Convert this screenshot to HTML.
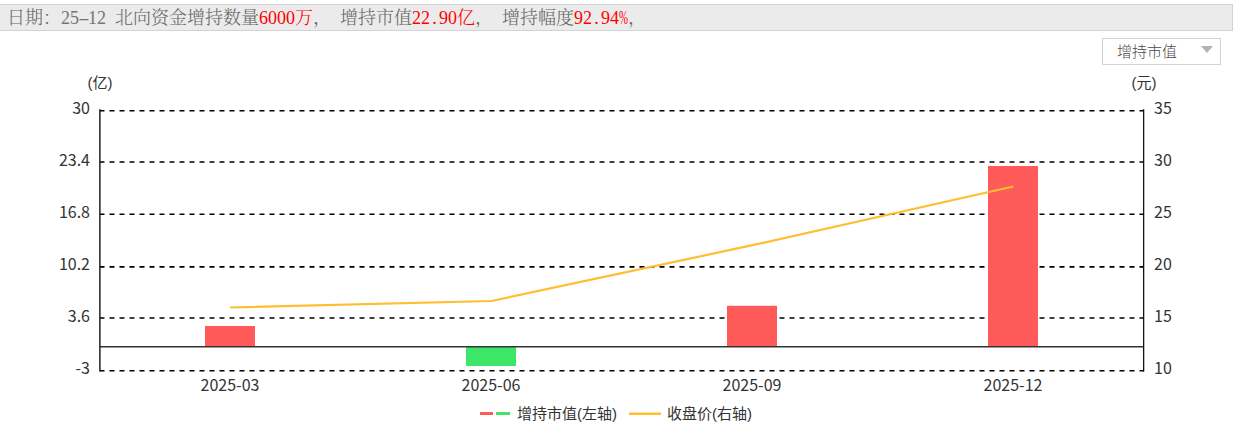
<!DOCTYPE html>
<html><head><meta charset="utf-8">
<style>
html,body{margin:0;padding:0;background:#fff;width:1238px;height:435px;overflow:hidden;position:relative}
.hdr{position:absolute;left:-1px;top:4px;width:1232px;height:25px;background:#ebebeb;border:1px solid #d3d3d3}
.ht{position:absolute;top:0;height:27px;line-height:25px;font-family:"Noto Serif CJK SC",serif;font-weight:300;font-size:18px;color:#666;white-space:nowrap}
.a{font-family:"Liberation Serif","Noto Serif CJK SC",serif;font-size:18px}
.a .c{position:relative;top:2px}
.pc{display:inline-block;transform:scaleX(0.6);margin-left:-3px}
.hy{display:inline-block;transform:scaleX(1.9)}
.r{color:#f00}
.c{display:inline-block;width:9px;text-align:center}
.dd{position:absolute;left:1102px;top:38px;width:117px;height:25px;border:1px solid #d2d2d2;background:#fff}
.ddt{position:absolute;left:14px;top:-1px;line-height:25px;font-family:"Noto Sans CJK SC",sans-serif;font-weight:300;font-size:15px;color:#4a4a4a}
.tri{position:absolute;left:98px;top:7px;width:0;height:0;border-left:6px solid transparent;border-right:6px solid transparent;border-top:7px solid #b3b3b3}
svg{position:absolute;left:0;top:0}
svg text{font-family:"Liberation Sans","Noto Sans CJK SC",sans-serif;font-size:15px;fill:#333}
svg .ax text{font-size:16px;font-family:"Noto Sans CJK SC",sans-serif}
</style></head><body>
<div class="hdr"></div>
<div class="ht" style="left:7px;top:4px">日期：</div>
<div class="ht a" style="left:61px;top:4px;color:#757575"><span class="c">2</span><span class="c">5</span><span class="c"><span class="hy">-</span></span><span class="c">1</span><span class="c">2</span></div>
<div class="ht" style="left:115px;top:4px">北向资金增持数量</div>
<div class="ht a r" style="left:259px;top:4px"><span class="c">6</span><span class="c">0</span><span class="c">0</span><span class="c">0</span></div>
<div class="ht r" style="left:295px;top:4px">万</div>
<div class="ht" style="left:313px;top:4px">，</div>
<div class="ht" style="left:340px;top:4px">增持市值</div>
<div class="ht a r" style="left:412px;top:4px"><span class="c">2</span><span class="c">2</span><span class="c">.</span><span class="c">9</span><span class="c">0</span></div>
<div class="ht r" style="left:457px;top:4px">亿</div>
<div class="ht" style="left:475px;top:4px">，</div>
<div class="ht" style="left:502px;top:4px">增持幅度</div>
<div class="ht a r" style="left:574px;top:4px"><span class="c">9</span><span class="c">2</span><span class="c">.</span><span class="c">9</span><span class="c">4</span><span class="c"><span class="pc">%</span></span></div>
<div class="ht" style="left:628px;top:4px">，</div>

<div class="dd"><div class="ddt">增持市值</div><div class="tri"></div></div>

<svg width="1238" height="435" viewBox="0 0 1238 435">
  <g stroke="#000" stroke-width="1.6" stroke-dasharray="5 5" stroke-dashoffset="0.5" fill="none">
    <line x1="100" y1="110.7" x2="1144" y2="110.7"/>
    <line x1="100" y1="162" x2="1144" y2="162"/>
    <line x1="100" y1="214.2" x2="1144" y2="214.2"/>
    <line x1="100" y1="266.9" x2="1144" y2="266.9"/>
    <line x1="100" y1="318" x2="1144" y2="318"/>
    <line x1="100" y1="370.7" x2="1144" y2="370.7"/>
  </g>
  <rect x="205" y="326" width="50" height="21" fill="#ff5a5a"/>
  <rect x="466" y="347" width="50" height="19" fill="#3ee668"/>
  <rect x="727" y="305.8" width="50" height="41.2" fill="#ff5a5a"/>
  <rect x="988" y="166" width="50" height="181" fill="#ff5a5a"/>
  <line x1="100" y1="346.8" x2="1144" y2="346.8" stroke="#333" stroke-width="1.4"/>
  <line x1="99.9" y1="109.2" x2="99.9" y2="371.5" stroke="#111" stroke-width="1.4"/>
  <line x1="1143.65" y1="109.2" x2="1143.65" y2="371.5" stroke="#111" stroke-width="1.3"/>
  <polyline points="230.2,307.5 491.5,301 752.5,245.2 1013.3,186.5" fill="none" stroke="#ffbd30" stroke-width="2.2"/>
  <g class="ax" text-anchor="end">
    <text x="90" y="114">30</text>
    <text x="90" y="166">23.4</text>
    <text x="90" y="218">16.8</text>
    <text x="90" y="270">10.2</text>
    <text x="90" y="322">3.6</text>
    <text x="90" y="374">-3</text>
  </g>
  <g class="ax" text-anchor="start">
    <text x="1154" y="114">35</text>
    <text x="1154" y="166">30</text>
    <text x="1154" y="218">25</text>
    <text x="1154" y="270">20</text>
    <text x="1154" y="322">15</text>
    <text x="1154" y="374">10</text>
  </g>
  <g class="ax" text-anchor="middle">
    <text x="230" y="391">2025-03</text>
    <text x="491" y="391">2025-06</text>
    <text x="752" y="391">2025-09</text>
    <text x="1013" y="391">2025-12</text>
  </g>
  <g text-anchor="middle">
    <text x="100" y="88.4">(亿)</text>
    <text x="1144" y="88.4">(元)</text>
  </g>
  <rect x="480" y="412" width="13" height="3" fill="#ff5a5a"/>
  <rect x="496" y="412" width="14" height="3" fill="#3ee668"/>
  <text x="517" y="419">增持市值(左轴)</text>
  <rect x="629" y="412.5" width="32" height="2.5" fill="#ffbd30"/>
  <text x="667" y="419">收盘价(右轴)</text>
</svg>
</body></html>
